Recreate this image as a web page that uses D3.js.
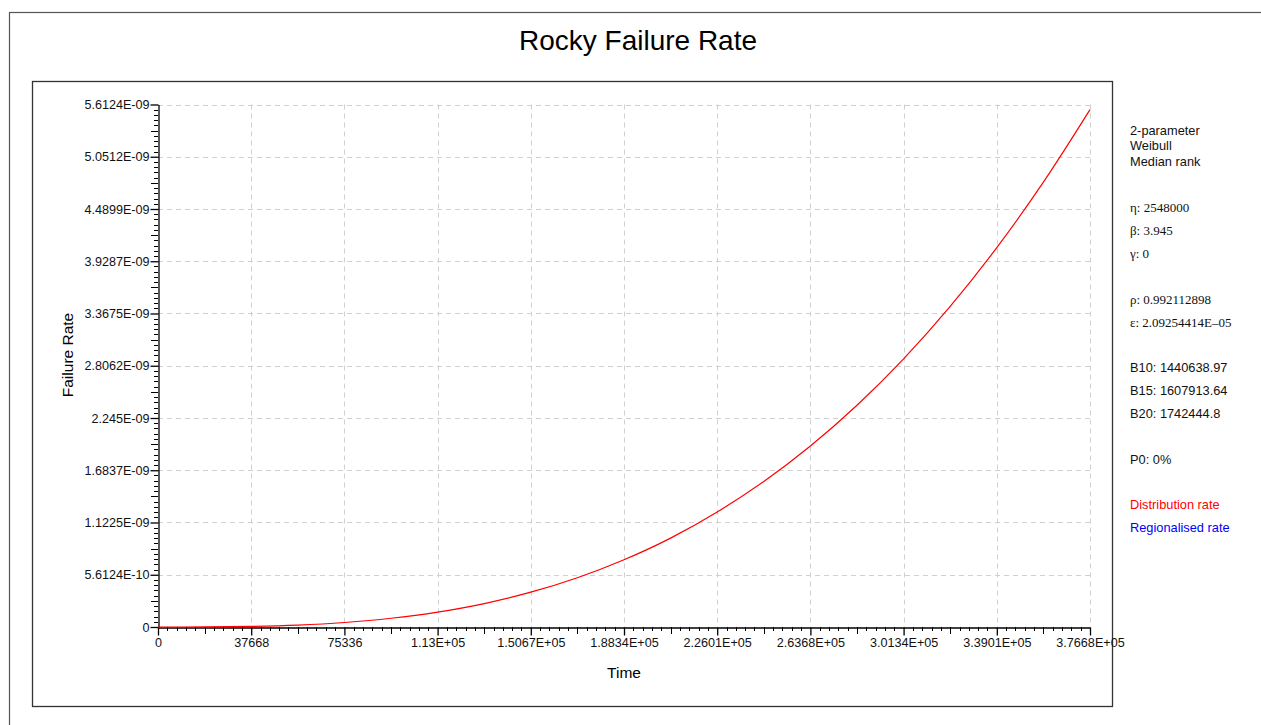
<!DOCTYPE html>
<html><head><meta charset="utf-8">
<script src="https://cdn.jsdelivr.net/npm/d3@7"></script>
<style>body{margin:0;background:#fff}svg{display:block}</style>
</head><body><svg id="c" width="1261" height="725"></svg>
<script>
// ---- data ----
const timeValues = [0,18834,37668,56502,75336,94170,113004,131838,150672,169506,188340,207174,226008,244842,263676,282510,301344,320178,339012,357846,376680];
const failureRate = [0,8.2e-13,6.3e-12,2.08e-11,4.86e-11,9.37e-11,1.60e-10,2.52e-10,3.74e-10,5.29e-10,7.22e-10,9.55e-10,1.235e-9,1.563e-9,1.944e-9,2.382e-9,2.880e-9,3.443e-9,4.075e-9,4.778e-9,5.557e-9];
const xTickValues = [0,37668,75336,113004,150672,188340,226008,263676,301344,339012,376680];
const xTickLabels = ["0","37668","75336","1.13E+05","1.5067E+05","1.8834E+05","2.2601E+05","2.6368E+05","3.0134E+05","3.3901E+05","3.7668E+05"];
const yTickValues = [0,5.6124e-10,1.1225e-9,1.6837e-9,2.245e-9,2.8062e-9,3.3675e-9,3.9287e-9,4.4899e-9,5.0512e-9,5.6124e-9];
const yTickLabels = ["0","5.6124E-10","1.1225E-09","1.6837E-09","2.245E-09","2.8062E-09","3.3675E-09","3.9287E-09","4.4899E-09","5.0512E-09","5.6124E-09"];
const infoSans1 = ["2-parameter","Weibull","Median rank"];
const infoSerif = ["η: 2548000","β: 3.945","γ: 0","ρ: 0.992112898","ε: 2.09254414E–05"];
const infoSans2 = ["B10: 1440638.97","B15: 1607913.64","B20: 1742444.8","P0: 0%"];
const legendItems = [{name:"Distribution rate",color:"#ff0000"},{name:"Regionalised rate",color:"#0000ff"}];

const svg = d3.select("#c");
const font = "Liberation Sans, Arial, sans-serif";
const serif = "Liberation Serif, Times New Roman, serif";

// outer and inner frames
svg.append("rect").attr("x",9.5).attr("y",12.5).attr("width",1270).attr("height",730)
  .attr("fill","none").attr("stroke","#555").attr("stroke-width",1.2);
svg.append("rect").attr("x",32.5).attr("y",81.5).attr("width",1080).attr("height",625)
  .attr("fill","none").attr("stroke","#333").attr("stroke-width",1.3);

svg.append("text").attr("x",638).attr("y",50).attr("text-anchor","middle")
  .attr("font-family",font).attr("font-size",28).attr("fill","#000").text("Rocky Failure Rate");

const x = d3.scaleLinear().domain([0,376680]).range([158,1090]);
const y = d3.scaleLinear().domain([0,5.6124e-9]).range([627,104.5]);

// grid
const g = svg.append("g");
g.selectAll(".vg").data(xTickValues.slice(1)).join("line")
  .attr("x1",d=>Math.round(x(d))+0.5).attr("x2",d=>Math.round(x(d))+0.5)
  .attr("y1",y(5.6124e-9)).attr("y2",627)
  .attr("stroke","#d0d0d0").attr("stroke-dasharray","5,4");
g.selectAll(".hg").data(yTickValues.slice(1)).join("line")
  .attr("y1",d=>Math.round(y(d))+0.5).attr("y2",d=>Math.round(y(d))+0.5)
  .attr("x1",158).attr("x2",1090)
  .attr("stroke","#d0d0d0").attr("stroke-dasharray","5,4");

// minor ticks
const xMinor = [], yMinor = [];
for (let i=0;i<xTickValues.length-1;i++){
  const a=xTickValues[i], b=xTickValues[i+1];
  for (let j=1;j<10;j++) xMinor.push({v:a+(b-a)*j/10, mid:j===5});
}
for (let i=0;i<yTickValues.length-1;i++){
  const a=yTickValues[i], b=yTickValues[i+1];
  for (let j=1;j<10;j++) yMinor.push({v:a+(b-a)*j/10, mid:j===5});
}
svg.append("g").selectAll("line").data(xMinor).join("line")
  .attr("x1",d=>Math.round(x(d.v))+0.5).attr("x2",d=>Math.round(x(d.v))+0.5)
  .attr("y1",627).attr("y2",d=>627+(d.mid?7:4)).attr("stroke","#000");
svg.append("g").selectAll("line").data(yMinor).join("line")
  .attr("y1",d=>Math.round(y(d.v))+0.5).attr("y2",d=>Math.round(y(d.v))+0.5)
  .attr("x1",158).attr("x2",d=>158-(d.mid?7:4)).attr("stroke","#000");

// axes
const xAxis = d3.axisBottom(x).tickValues(xTickValues).tickFormat((d,i)=>xTickLabels[i]).tickSize(8).tickSizeOuter(0);
const yAxis = d3.axisLeft(y).tickValues(yTickValues).tickFormat((d,i)=>yTickLabels[i]).tickSize(8).tickSizeOuter(0);
const gx = svg.append("g").attr("transform","translate(0,627.5)").call(xAxis);
const gy = svg.append("g").attr("transform","translate(158.5,0)").call(yAxis);
[gx,gy].forEach(a=>{
  a.selectAll("path,line").attr("stroke","#000").attr("stroke-width",1.3);
  a.selectAll("text").attr("font-family",font).attr("font-size",12.6).attr("fill","#111");
});
gx.selectAll("text").attr("dy","0.71em").attr("y",11);
gy.selectAll("text").attr("x",-9);

svg.append("text").attr("x",624).attr("y",678).attr("text-anchor","middle")
  .attr("font-family",font).attr("font-size",15.5).text("Time");
svg.append("text").attr("transform","translate(73,355) rotate(-90)").attr("text-anchor","middle")
  .attr("font-family",font).attr("font-size",15.5).text("Failure Rate");

// curve
const line = d3.line().x((d,i)=>x(timeValues[i])).y(d=>y(d)).curve(d3.curveMonotoneX);
svg.append("path").datum(failureRate).attr("d",line).attr("fill","none")
  .attr("stroke","#ff0000").attr("stroke-width",1.2);

// info panel
const ix = 1130;
svg.append("g").selectAll("text").data(infoSans1).join("text")
  .attr("x",ix).attr("y",(d,i)=>134.5+i*15.5).attr("font-family",font).attr("font-size",12.8).attr("fill","#111").text(d=>d);
const serifY = [211.5,234.5,257.5,303.5,326.5];
svg.append("g").selectAll("text").data(infoSerif).join("text")
  .attr("x",ix).attr("y",(d,i)=>serifY[i]).attr("font-family",serif).attr("font-size",13).attr("fill","#111").text(d=>d);
const sans2Y = [371.5,394.5,417.5,463.5];
svg.append("g").selectAll("text").data(infoSans2).join("text")
  .attr("x",ix).attr("y",(d,i)=>sans2Y[i]).attr("font-family",font).attr("font-size",12.8).attr("fill","#111").text(d=>d);
svg.append("g").selectAll("text").data(legendItems).join("text")
  .attr("x",ix).attr("y",(d,i)=>508.5+i*23).attr("font-family",font).attr("font-size",12.8).attr("fill",d=>d.color).text(d=>d.name);
</script></body></html>
